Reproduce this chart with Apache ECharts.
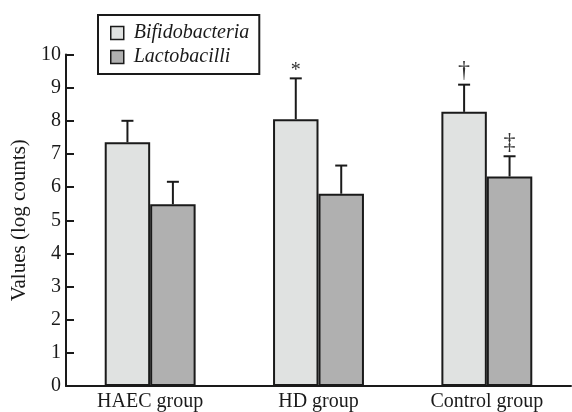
<!DOCTYPE html>
<html>
<head>
<meta charset="utf-8">
<script src="https://cdn.jsdelivr.net/npm/echarts@6/dist/echarts.min.js"></script>
<style>html,body{margin:0;padding:0;background:#fff}#c{width:572px;height:412px}</style>
</head>
<body>
<div id="c"></div>
<script>
var categories = ['HAEC group', 'HD group', 'Control group'];
var bifido = [7.35, 8.05, 8.27];
var lacto = [5.48, 5.80, 6.32];
var bifidoErrTop = [8.00, 9.28, 9.09];
var lactoErrTop = [6.16, 6.65, 6.93];
var bifidoMarks = ['', '*', '\u2020'];
var lactoMarks = ['', '', '\u2021'];
var yTicks = [0,1,2,3,4,5,6,7,8,9,10];

var FONT = '"Liberation Serif", "Times New Roman", serif';
var BAR_RATIO = 0.27;

function errSeries(name, tops, marks, side) {
  return {
    type: 'custom',
    name: name + ' err',
    z: 5,
    data: tops.map(function (v, i) { return [i, v, side === 0 ? bifido[i] : lacto[i]]; }),
    renderItem: function (params, api) {
      var i = api.value(0);
      var c = api.coord([i, api.value(1)]);
      var b = api.coord([i, api.value(2)]);
      var bw = api.size([1, 0])[0] * BAR_RATIO;
      var x = c[0] + (side === 0 ? -bw / 2 : bw / 2);
      var st = { stroke: '#1a1a1a', lineWidth: 2 };
      var children = [
        { type: 'line', shape: { x1: x, y1: b[1], x2: x, y2: c[1] }, style: st },
        { type: 'line', shape: { x1: x - 6, y1: c[1], x2: x + 6, y2: c[1] }, style: st }
      ];
      var m = marks[i];
      if (m) {
        var isStar = m === '*';
        children.push({
          type: 'text',
          style: { text: m, x: x, y: c[1] + (isStar ? 2 : -2), align: 'center', verticalAlign: 'bottom',
                   font: (isStar ? '20px ' : '24px ') + FONT, fill: '#333' }
        });
      }
      return { type: 'group', children: children };
    }
  };
}

var chart = echarts.init(document.getElementById('c'));
chart.setOption({
  animation: false,
  grid: { left: 66, right: 1, top: 54.5, bottom: 24.7, containLabel: false },
  legend: {
    orient: 'vertical',
    left: 98, top: 15,
    padding: [8, 10, 7, 12],
    itemGap: 4,
    itemWidth: 13, itemHeight: 13,
    borderColor: '#1a1a1a', borderWidth: 2,
    textStyle: { fontFamily: FONT, fontStyle: 'italic', fontSize: 20, color: '#1a1a1a', padding: [0, 0, 0, 5] },
    data: [
      { name: 'Bifidobacteria', icon: 'rect', itemStyle: { color: '#e0e2e1', borderColor: '#1a1a1a', borderWidth: 1.5 } },
      { name: 'Lactobacilli', icon: 'rect', itemStyle: { color: '#b0b0b0', borderColor: '#1a1a1a', borderWidth: 1.5 } }
    ]
  },
  xAxis: {
    type: 'category',
    data: categories,
    axisLine: { lineStyle: { color: '#1a1a1a', width: 2 } },
    axisTick: { inside: true, length: 10, lineStyle: { width: 2, color: '#1a1a1a' } },
    axisLabel: { fontFamily: FONT, fontSize: 20, color: '#1a1a1a', margin: 6 },
    splitLine: { show: false }
  },
  yAxis: {
    type: 'value',
    min: yTicks[0], max: yTicks[yTicks.length - 1], interval: 1,
    name: 'Values (log counts)',
    nameLocation: 'middle',
    nameGap: 35,
    nameRotate: 90,
    nameTextStyle: { fontFamily: FONT, fontSize: 21, color: '#1a1a1a' },
    axisLine: { show: true, lineStyle: { color: '#1a1a1a', width: 2 } },
    axisTick: { show: true, inside: true, length: 8, lineStyle: { width: 2, color: '#1a1a1a' } },
    axisLabel: { fontFamily: FONT, fontSize: 20, color: '#1a1a1a', margin: 5 },
    splitLine: { show: false }
  },
  series: [
    { type: 'bar', name: 'Bifidobacteria', data: bifido, barWidth: (BAR_RATIO * 100) + '%', barGap: '0%',
      itemStyle: { color: '#e0e2e1', borderColor: '#1a1a1a', borderWidth: 2 } },
    { type: 'bar', name: 'Lactobacilli', data: lacto, barWidth: (BAR_RATIO * 100) + '%', barGap: '0%',
      itemStyle: { color: '#b0b0b0', borderColor: '#1a1a1a', borderWidth: 2 } },
    errSeries('Bifidobacteria', bifidoErrTop, bifidoMarks, 0),
    errSeries('Lactobacilli', lactoErrTop, lactoMarks, 1)
  ]
});
</script>
</body>
</html>
